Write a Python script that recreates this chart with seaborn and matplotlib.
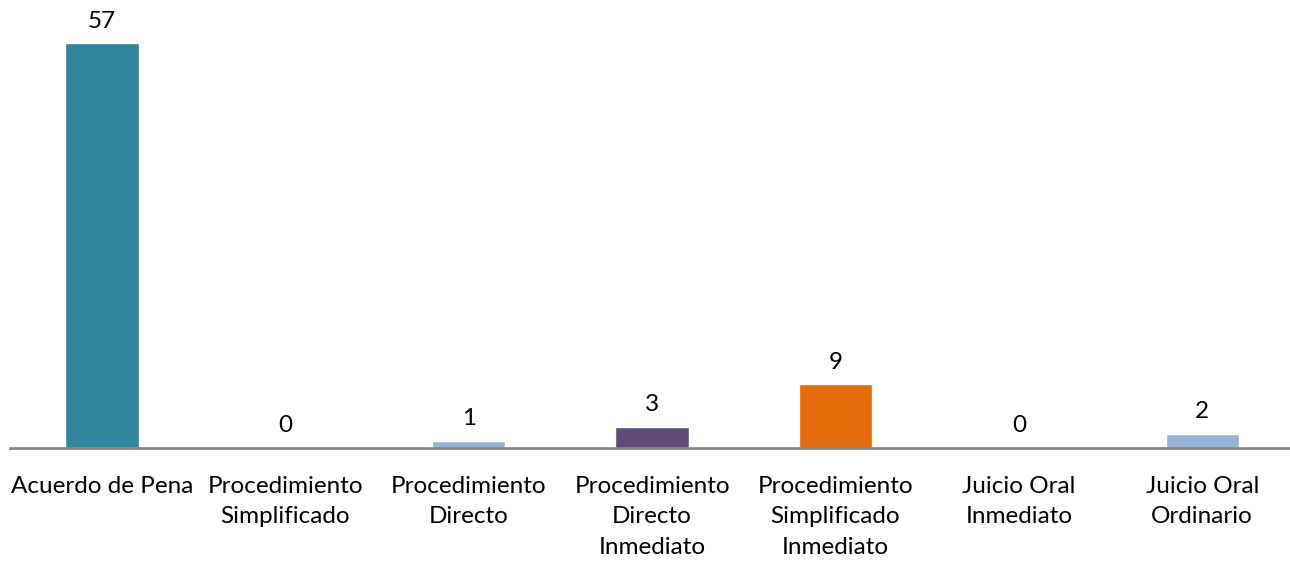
import matplotlib
matplotlib.use("Agg")
import matplotlib.pyplot as plt
import seaborn as sns
import pandas as pd

categories = [
    "Acuerdo de Pena",
    "Procedimiento\nSimplificado",
    "Procedimiento\nDirecto",
    "Procedimiento\nDirecto\nInmediato",
    "Procedimiento\nSimplificado\nInmediato",
    "Juicio Oral\nInmediato",
    "Juicio Oral\nOrdinario",
]
counts = [57, 0, 1, 3, 9, 0, 2]
bar_colors = ["#31859C", "#95B3D7", "#95B3D7", "#604A7B", "#E46C0A", "#95B3D7", "#95B3D7"]

df = pd.DataFrame({"categoria": categories, "casos": counts})

sns.set_style("white")
plt.rcParams["font.family"] = ["Lato", "DejaVu Sans"]

fig = plt.figure(figsize=(12.9, 5.64), dpi=100)
ax = fig.add_axes([0.008, 0.206, 0.995, 0.755])

sns.barplot(data=df, x="categoria", y="casos", hue="categoria",
            palette=bar_colors, width=0.4, legend=False, ax=ax, saturation=1)

for i, v in enumerate(counts):
    ax.text(i, v + 1.6, str(v), ha="center", va="bottom", fontsize=17.5, color="black")

ax.set_xlim(-0.5, 6.5)
ax.set_ylim(0, 60)
ax.set_xlabel("")
ax.set_ylabel("")
ax.set_yticks([])
ax.tick_params(axis="x", length=0, pad=20, labelsize=17.5, labelcolor="black")
for lbl in ax.get_xticklabels():
    lbl.set_linespacing(1.58)
for side in ["top", "left", "right"]:
    ax.spines[side].set_visible(False)
ax.spines["bottom"].set_color("#878787")
ax.spines["bottom"].set_linewidth(2)

fig.savefig("out.png", dpi=100)
